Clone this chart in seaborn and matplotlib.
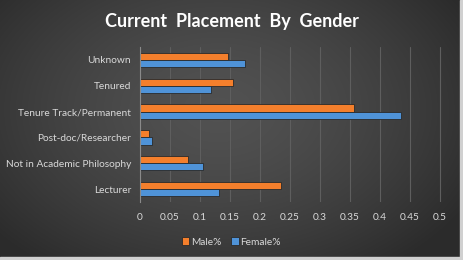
import numpy as np
import pandas as pd
import matplotlib
matplotlib.use("Agg")
import matplotlib.pyplot as plt
import seaborn as sns

categories = ["Unknown", "Tenured", "Tenure Track/Permanent", "Post-doc/Researcher",
              "Not in Academic Philosophy", "Lecturer"]
male_pct = [0.147, 0.155, 0.357, 0.016, 0.080, 0.235]
female_pct = [0.175, 0.119, 0.435, 0.021, 0.106, 0.133]
series_names = ["Male%", "Female%"]
x_ticks = [0, 0.05, 0.1, 0.15, 0.2, 0.25, 0.3, 0.35, 0.4, 0.45, 0.5]
x_tick_labels = ["0", "0.05", "0.1", "0.15", "0.2", "0.25", "0.3", "0.35", "0.4", "0.45", "0.5"]

df = pd.DataFrame({
    "Category": categories * 2,
    "Value": male_pct + female_pct,
    "Series": [series_names[0]] * len(categories) + [series_names[1]] * len(categories),
})

sns.set_theme(style="dark")
plt.rcParams["font.family"] = ["Lato", "DejaVu Sans"]

W, H = 463, 260
fig = plt.figure(figsize=(W / 100, H / 100), dpi=100)

# radial gradient background
bg = fig.add_axes([0, 0, 1, 1], zorder=-10)
yy, xx = np.mgrid[0:H, 0:W]
cx, cy = 0.47 * W, 0.42 * H
d = np.sqrt(((xx - cx) / (0.62 * W)) ** 2 + ((yy - cy) / (0.75 * H)) ** 2)
d = np.clip(d, 0, 1)
val = 0.32 - 0.15 * d ** 1.5
img = np.dstack([val, val, val])
bg.imshow(img, aspect="auto", extent=[0, 1, 0, 1], origin="upper")
bg.set_axis_off()
# light frame edge on right and bottom
bg.add_patch(plt.Rectangle((1 - 3 / W, 0), 3 / W, 1, color="#d0d0d0", transform=bg.transAxes, zorder=5))
bg.add_patch(plt.Rectangle((0, 0), 1, 3 / H, color="#d0d0d0", transform=bg.transAxes, zorder=5))

ax = fig.add_axes([139.5 / W, 1 - 202 / H, (446 - 139.5) / W, (202 - 47) / H])
ax.patch.set_alpha(0)

palette = {"Male%": "#F47F2C", "Female%": "#4F93D8"}
sns.barplot(data=df, x="Value", y="Category", hue="Series", hue_order=series_names,
            order=categories, palette=palette, width=0.56, orient="h", ax=ax,
            edgecolor="#2a2a2a", linewidth=0.6, saturation=1, legend=True)

ax.set_xlim(0, 0.51)
ax.set_xticks(x_ticks)
ax.set_xticklabels(x_tick_labels)
ax.set_xlabel("")
ax.set_ylabel("")
ax.grid(axis="x", color="#5e5e5e", linewidth=0.8)
ax.grid(axis="y", visible=False)
ax.set_axisbelow(True)
for s in ["top", "right", "bottom"]:
    ax.spines[s].set_visible(False)
ax.spines["left"].set_color("#8a8a8a")
ax.spines["left"].set_linewidth(0.8)
ax.tick_params(axis="both", colors="#d9d9d9", labelsize=7.3, length=0)
ax.tick_params(axis="x", pad=8)
ax.tick_params(axis="y", pad=6)
for t in ax.get_xticklabels() + ax.get_yticklabels():
    t.set_color("#d9d9d9")

leg = ax.legend(loc="upper center", bbox_to_anchor=(0.3, -0.17), ncol=2, frameon=False,
                fontsize=7.3, handlelength=0.7, handleheight=0.7, handletextpad=0.2,
                columnspacing=1.0, labelcolor="#d9d9d9")

fig.text(0.5, 1 - 22 / H, "Current  Placement  By  Gender", ha="center", va="center",
         color="white", fontsize=13, fontweight="bold")

fig.savefig("out.png", dpi=100)
